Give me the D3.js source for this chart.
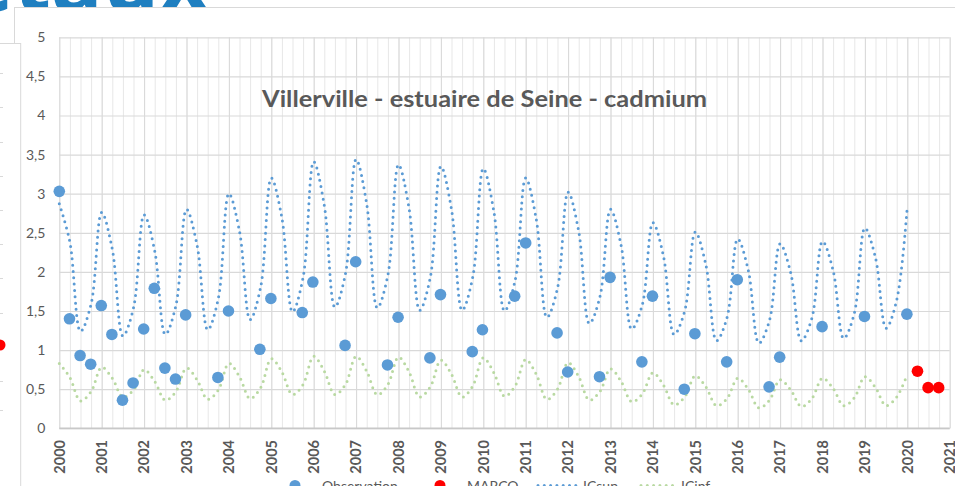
<!DOCTYPE html>
<html>
<head>
<meta charset="utf-8">
<script src="https://cdn.jsdelivr.net/npm/d3@7"></script>
<style>
  body { margin: 0; background: #fff; overflow: hidden; }
  svg { display: block; }
</style>
</head>
<body>
<div id="chart"></div>
<script>
// observations (decimal year / cadmium value)
const obsDates = [2000.0, 2000.24, 2000.49, 2000.74, 2000.99, 2001.24, 2001.49, 2001.74, 2001.99, 2002.24,
  2002.49, 2002.74, 2002.98, 2003.74, 2003.99, 2004.73, 2004.99, 2005.73, 2005.98, 2006.74, 2006.99,
  2007.74, 2007.99, 2008.74, 2008.99, 2009.74, 2009.98, 2010.74, 2011.0, 2011.74, 2011.99, 2012.74,
  2012.99, 2013.74, 2013.99, 2014.74, 2014.99, 2015.74, 2015.99, 2016.74, 2016.99, 2017.99, 2018.99, 2019.99];
const obsValues = [3.03, 1.40, 0.93, 0.82, 1.57, 1.20, 0.36, 0.58, 1.27, 1.79,
  0.77, 0.63, 1.45, 0.65, 1.50, 1.01, 1.66, 1.48, 1.87, 1.06, 2.13,
  0.81, 1.42, 0.90, 1.71, 0.98, 1.26, 1.69, 2.37, 1.22, 0.72, 0.66,
  1.93, 0.85, 1.69, 0.50, 1.21, 0.85, 1.90, 0.53, 0.91, 1.30, 1.43, 1.46];

const marcoDates = [2020.24, 2020.49, 2020.74];
const marcoValues = [0.73, 0.52, 0.52];

// confidence band, one value per quarter (Jan, Apr, Jul, Oct) from 2000 to 2020
const icQuarters = ["2000-01","2000-04","2000-07","2000-10","2001-01","2001-04","2001-07","2001-10",
  "2002-01","2002-04","2002-07","2002-10","2003-01","2003-04","2003-07","2003-10","2004-01","2004-04","2004-07","2004-10",
  "2005-01","2005-04","2005-07","2005-10","2006-01","2006-04","2006-07","2006-10","2007-01","2007-04","2007-07","2007-10",
  "2008-01","2008-04","2008-07","2008-10","2009-01","2009-04","2009-07","2009-10","2010-01","2010-04","2010-07","2010-10",
  "2011-01","2011-04","2011-07","2011-10","2012-01","2012-04","2012-07","2012-10","2013-01","2013-04","2013-07","2013-10",
  "2014-01","2014-04","2014-07","2014-10","2015-01","2015-04","2015-07","2015-10","2016-01","2016-04","2016-07","2016-10",
  "2017-01","2017-04","2017-07","2017-10","2018-01","2018-04","2018-07","2018-10","2019-01","2019-04","2019-07","2019-10",
  "2020-01"];
const icSup = [2.87, 2.38, 1.24, 1.59, 2.76, 2.29, 1.18, 1.54, 2.73, 2.27, 1.20, 1.57, 2.80, 2.34, 1.26, 1.66,
  3.00, 2.52, 1.39, 1.81, 3.20, 2.69, 1.49, 1.93, 3.41, 2.85, 1.55, 1.98, 3.44, 2.87, 1.54, 1.96,
  3.37, 2.81, 1.51, 1.93, 3.35, 2.80, 1.51, 1.93, 3.32, 2.77, 1.50, 1.89, 3.20, 2.67, 1.42, 1.79,
  3.02, 2.52, 1.34, 1.68, 2.80, 2.34, 1.27, 1.58, 2.63, 2.20, 1.20, 1.50, 2.51, 2.09, 1.12, 1.42,
  2.42, 2.02, 1.09, 1.38, 2.36, 1.99, 1.12, 1.41, 2.39, 2.02, 1.15, 1.47, 2.56, 2.18, 1.28, 1.64, 2.84];
const icInf = [0.83, 0.65, 0.35, 0.47, 0.78, 0.64, 0.40, 0.49, 0.75, 0.60, 0.36, 0.47, 0.77, 0.62, 0.37, 0.49,
  0.83, 0.66, 0.38, 0.52, 0.89, 0.72, 0.43, 0.56, 0.92, 0.73, 0.43, 0.56, 0.92, 0.73, 0.43, 0.56,
  0.91, 0.72, 0.40, 0.53, 0.87, 0.69, 0.40, 0.54, 0.90, 0.71, 0.41, 0.54, 0.88, 0.69, 0.37, 0.50,
  0.84, 0.66, 0.36, 0.47, 0.76, 0.60, 0.34, 0.44, 0.71, 0.55, 0.30, 0.40, 0.67, 0.53, 0.29, 0.38,
  0.64, 0.50, 0.26, 0.36, 0.62, 0.49, 0.28, 0.38, 0.64, 0.51, 0.29, 0.39, 0.66, 0.52, 0.29, 0.40, 0.69];

const yTicks = [0, 0.5, 1, 1.5, 2, 2.5, 3, 3.5, 4, 4.5, 5];
const xYears = d3.range(2000, 2022);
const legendNames = ["Observation", "MARCO", "ICsup", "ICinf"];

const blue = "#5b9bd5", red = "#ff0000", green = "#b9d9a2", grid = "#d9d9d9", txt = "#595959";

const width = 955, height = 486;
const svg = d3.select("#chart").append("svg")
  .attr("width", width).attr("height", height);

// page header behind the chart, mostly cut off
svg.append("text")
  .attr("x", 209).attr("y", 11)
  .attr("text-anchor", "end")
  .style("font-family", "Open Sans").style("font-weight", 700)
  .style("font-size", "86px").style("fill", "#1f7fc0")
  .text("Métaux");

// chart frame
svg.append("rect")
  .attr("x", 14.5).attr("y", 7.5).attr("width", 960).attr("height", 500)
  .style("fill", "#fff").style("stroke", grid);

// neighbouring chart panel on the left
svg.append("rect")
  .attr("x", -10).attr("y", 43.5).attr("width", 30.7).attr("height", 460)
  .style("fill", "#fff").style("stroke", grid);
const stubY = [73, 107, 142, 176, 210, 244, 278, 313, 347, 381, 410];
svg.selectAll("line.stub").data(stubY).join("line")
  .attr("class", "stub")
  .attr("x1", 0).attr("x2", 3).attr("y1", d => d + 0.5).attr("y2", d => d + 0.5)
  .style("stroke", grid);
svg.append("circle").attr("cx", 0).attr("cy", 345).attr("r", 5.5).style("fill", red);

const x = d3.scaleLinear().domain([2000, 2021]).range([59.3, 949.7]);
const y = d3.scaleLinear().domain([0, 5]).range([428.3, 37.3]);

// minor vertical gridlines (quarters)
svg.append("g")
  .attr("transform", `translate(0, ${y(0)})`)
  .call(d3.axisBottom(x).tickValues(d3.range(2000, 2021.01, 0.25)).tickSize(-(y(0) - y(5))).tickFormat(""))
  .call(g => g.select(".domain").remove())
  .call(g => g.selectAll("line").style("stroke", "#e7e7e7"));

// major vertical gridlines (years)
svg.append("g")
  .attr("transform", `translate(0, ${y(0)})`)
  .call(d3.axisBottom(x).tickValues(xYears).tickSize(-(y(0) - y(5))).tickFormat(""))
  .call(g => g.select(".domain").remove())
  .call(g => g.selectAll("line").style("stroke", grid));

// horizontal gridlines + y labels
svg.append("g")
  .attr("transform", `translate(${x(2000)}, 0)`)
  .call(d3.axisLeft(y).tickValues(yTicks).tickSize(-(x(2021) - x(2000))).tickPadding(14)
    .tickFormat(d => String(d).replace(".", ",")))
  .call(g => g.select(".domain").remove())
  .call(g => g.selectAll("line").style("stroke", grid).style("stroke-width", 1.2))
  .call(g => g.selectAll("text").style("font-family", "Lato").style("font-size", "14px").style("fill", txt));

// bottom axis line + rotated year labels
svg.append("line")
  .attr("x1", x(2000)).attr("x2", x(2021)).attr("y1", y(0)).attr("y2", y(0))
  .style("stroke", "#c8c8c8").style("stroke-width", 1.5);
svg.append("g")
  .selectAll("text").data(xYears).join("text")
  .attr("transform", d => `translate(${x(d)}, 440) rotate(-90)`)
  .attr("text-anchor", "end").attr("dy", "0.36em")
  .style("font-family", "Lato").style("font-weight", 700).style("font-size", "14.5px").style("fill", txt)
  .text(d => d);

// title
svg.append("text")
  .attr("x", 484.5).attr("y", 107)
  .attr("text-anchor", "middle")
  .attr("textLength", 445).attr("lengthAdjust", "spacingAndGlyphs")
  .style("font-family", "Lato").style("font-weight", 700).style("font-size", "23px").style("fill", txt)
  .text("Villerville - estuaire de Seine - cadmium");

// confidence lines
const qx = s => +s.slice(0, 4) + (+s.slice(5, 7) - 1) / 12;
const line = d3.line().x(d => x(d[0])).y(d => y(d[1])).curve(d3.curveCatmullRom);
svg.append("path")
  .datum(icQuarters.map((q, i) => [qx(q), icInf[i]]))
  .attr("d", line)
  .style("fill", "none").style("stroke", green).style("stroke-width", 3)
  .style("stroke-linecap", "round").style("stroke-dasharray", "0 6.3");
svg.append("path")
  .datum(icQuarters.map((q, i) => [qx(q), icSup[i]]))
  .attr("d", line)
  .style("fill", "none").style("stroke", blue).style("stroke-width", 3)
  .style("stroke-linecap", "round").style("stroke-dasharray", "0 6.3");

// points
svg.append("g").selectAll("circle").data(obsDates).join("circle")
  .attr("cx", d => x(d)).attr("cy", (d, i) => y(obsValues[i])).attr("r", 5.8)
  .style("fill", blue);
svg.append("g").selectAll("circle").data(marcoDates).join("circle")
  .attr("cx", d => x(d)).attr("cy", (d, i) => y(marcoValues[i])).attr("r", 5.8)
  .style("fill", red);

// legend (cut off by the bottom edge)
const legend = svg.append("g").style("font-family", "Lato").style("font-size", "14px").style("fill", txt);
legend.append("circle").attr("cx", 295).attr("cy", 485.5).attr("r", 5.5).style("fill", blue);
legend.append("circle").attr("cx", 440).attr("cy", 485.5).attr("r", 5.5).style("fill", red);
legend.append("line").attr("x1", 538).attr("x2", 580).attr("y1", 485.5).attr("y2", 485.5)
  .style("stroke", blue).style("stroke-width", 3).style("stroke-linecap", "round").style("stroke-dasharray", "0 6.3");
legend.append("line").attr("x1", 641).attr("x2", 677).attr("y1", 485.5).attr("y2", 485.5)
  .style("stroke", green).style("stroke-width", 3).style("stroke-linecap", "round").style("stroke-dasharray", "0 6.3");
legend.selectAll("text").data(legendNames).join("text")
  .attr("x", (d, i) => [322, 467, 583, 681][i]).attr("y", 491)
  .text(d => d);
</script>
</body>
</html>
